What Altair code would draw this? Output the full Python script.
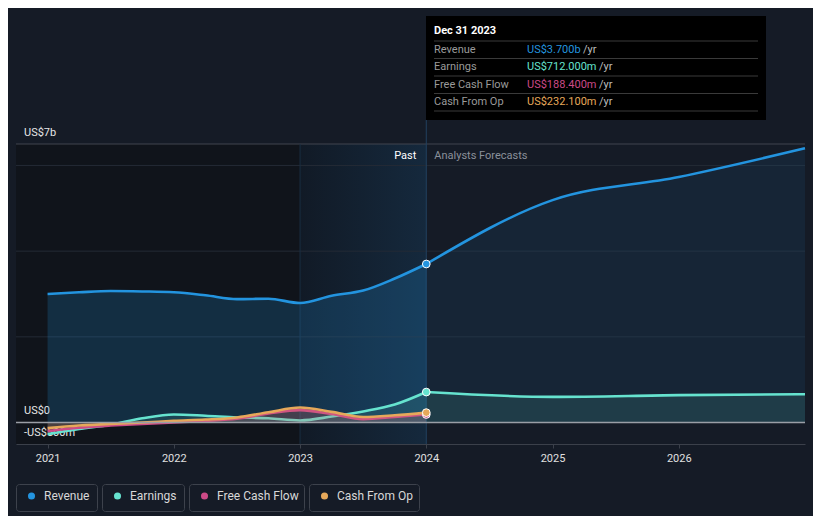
import altair as alt
import pandas as pd

# ---------------- data (US$ billions) ----------------
past_t = [2021.0, 2021.25, 2021.5, 2021.75, 2022.0, 2022.25, 2022.5, 2022.75,
          2023.0, 2023.25, 2023.5, 2023.75, 2024.0]
revenue_past = [3.00, 3.04, 3.07, 3.06, 3.04, 2.97, 2.88, 2.89, 2.79, 2.96, 3.08, 3.36, 3.70]
earnings_past = [-0.27, -0.15, -0.05, 0.10, 0.19, 0.16, 0.12, 0.10, 0.05, 0.14, 0.26, 0.42, 0.712]
fcf_past = [-0.20, -0.12, -0.07, -0.03, 0.00, 0.04, 0.09, 0.21, 0.29, 0.20, 0.08, 0.13, 0.1884]
cfo_past = [-0.13, -0.07, -0.03, 0.00, 0.04, 0.07, 0.12, 0.24, 0.35, 0.25, 0.13, 0.17, 0.2321]

fc_t = [2024.0, 2025.0, 2026.0, 2027.0]
revenue_fc = [3.70, 5.19, 5.73, 6.40]
earnings_fc = [0.712, 0.60, 0.64, 0.66]

series_names = ["Revenue", "Earnings", "Free Cash Flow", "Cash From Op"]
series_colors = ["#2394df", "#66e3cf", "#cc4a87", "#e6a85a"]

year_ticks = [2021, 2022, 2023, 2024, 2025, 2026]
y_label_vals = [6.5, 0.0, -0.5]
y_label_text = ["US$7b", "US$0", "-US$500m"]
grid_vals = [2.0, 4.0, 6.0]

tooltip_date = "Dec 31 2023"
tooltip_values = ["US$3.700b", "US$712.000m", "US$188.400m", "US$232.100m"]

# ---------------- layout ----------------
X_MIN, X_MAX = 2020.75, 2027.0
Y_MIN, Y_MAX = -0.5, 6.5
W, H = 789, 300
FONT = "Roboto"
BG = "#151b26"

xscale = alt.Scale(domain=[X_MIN, X_MAX], nice=False, zero=False)
yscale = alt.Scale(domain=[Y_MIN, Y_MAX], nice=False, zero=False)
xaxis = alt.Axis(values=year_ticks, format="d", title=None, grid=False,
                 domainColor="#3b404a", tickColor="#3b404a", tickSize=4,
                 labelColor="#e0e0e0", labelFontSize=11, labelFont=FONT,
                 labelPadding=4, labelFlush=False)


def XF(field):
    return alt.X(field, type="quantitative", scale=xscale, axis=xaxis)


def XD(v):
    return alt.X(datum=v, type="quantitative", scale=xscale, axis=xaxis)


def YF(field):
    return alt.Y(field, type="quantitative", scale=yscale, axis=None)


def YD(v):
    return alt.Y(datum=v, type="quantitative", scale=yscale, axis=None)


layers = []

# background regions
layers.append(alt.Chart().mark_rect(color="#10141b").encode(
    x=XD(X_MIN), x2=alt.X2(datum=2023.0), y=YD(Y_MAX), y2=alt.Y2(datum=Y_MIN)))
grad = alt.LinearGradient(gradient="linear",
                          stops=[alt.GradientStop(color="#111a26", offset=0),
                                 alt.GradientStop(color="#15293d", offset=1)],
                          x1=0, x2=1, y1=0, y2=0)
layers.append(alt.Chart().mark_rect(color=grad).encode(
    x=XD(2023.0), x2=alt.X2(datum=2024.0), y=YD(Y_MAX), y2=alt.Y2(datum=Y_MIN)))

# gridlines
grid_df = pd.DataFrame({"g": grid_vals})
layers.append(alt.Chart(grid_df).mark_rule(color="#242b36", strokeWidth=1).encode(
    x=XD(X_MIN), x2=alt.X2(datum=X_MAX), y=YF("g")))
layers.append(alt.Chart().mark_rule(color="#40454e", strokeWidth=1).encode(
    x=XD(X_MIN), x2=alt.X2(datum=X_MAX), y=YD(Y_MAX)))

# y labels
ylab_df = pd.DataFrame({"v": y_label_vals, "txt": y_label_text})
layers.append(alt.Chart(ylab_df).mark_text(align="left", baseline="middle", dy=-11.5,
                                           font=FONT, fontSize=11, color="#e6e6e6").encode(
    x=alt.value(8), y=YF("v"), text="txt:N"))

# vertical lines
layers.append(alt.Chart().mark_rule(color="#1a2d42", strokeWidth=1).encode(
    x=XD(2023.0), y=YD(Y_MAX), y2=alt.Y2(datum=Y_MIN)))
layers.append(alt.Chart().mark_rule(color="#22405f", strokeWidth=1).encode(
    x=XD(2024.0), y=alt.value(-24), y2=alt.value(H)))

# Past / Analysts Forecasts
layers.append(alt.Chart().mark_text(align="right", baseline="middle", dx=-10, dy=12,
                                    font=FONT, fontSize=11, color="#ffffff").encode(
    x=XD(2024.0), y=YD(Y_MAX), text=alt.value("Past")))
layers.append(alt.Chart().mark_text(align="left", baseline="middle", dx=8, dy=12,
                                    font=FONT, fontSize=11, color="#8a909a").encode(
    x=XD(2024.0), y=YD(Y_MAX), text=alt.value("Analysts Forecasts")))

# series: area + line for each, drawn in order
past_vals = [revenue_past, earnings_past, fcf_past, cfo_past]
fc_vals = {0: revenue_fc, 1: earnings_fc}
past_area_op = [0.2, 0.12, 0.15, 0.12]
fc_area_op = [0.09, 0.12]
for i, name in enumerate(series_names):
    col = series_colors[i]
    dfp = pd.DataFrame({"t": past_t, "v": past_vals[i]})
    layers.append(alt.Chart(dfp).mark_area(interpolate="monotone", color=col,
                                           opacity=past_area_op[i]).encode(
        x=XF("t"), y=YF("v"), y2=alt.Y2(datum=0)))
    if i in fc_vals:
        dff = pd.DataFrame({"t": fc_t, "v": fc_vals[i]})
        layers.append(alt.Chart(dff).mark_area(interpolate="monotone", color=col,
                                               opacity=fc_area_op[i]).encode(
            x=XF("t"), y=YF("v"), y2=alt.Y2(datum=0)))
    layers.append(alt.Chart(dfp).mark_line(interpolate="monotone", color=col,
                                           strokeWidth=2.6).encode(
        x=XF("t"), y=YF("v")))
    if i in fc_vals:
        layers.append(alt.Chart(dff).mark_line(interpolate="monotone", color=col,
                                               strokeWidth=2.6).encode(
            x=XF("t"), y=YF("v")))

# zero line
layers.append(alt.Chart().mark_rule(color="#9a9ea6", strokeWidth=1.5).encode(
    x=XD(X_MIN), x2=alt.X2(datum=X_MAX), y=YD(0.0)))

# end points at Dec 31 2023
pt_df = pd.DataFrame({"t": [2024.0] * 4,
                      "v": [revenue_past[-1], earnings_past[-1], fcf_past[-1], cfo_past[-1]],
                      "s": series_names})
layers.append(alt.Chart(pt_df).mark_point(filled=True, size=60, stroke="#ffffff",
                                          strokeWidth=1, opacity=1).encode(
    x=XF("t"), y=YF("v"),
    fill=alt.Fill("s:N", scale=alt.Scale(domain=series_names, range=series_colors), legend=None),
    order=alt.Order("o:Q")).transform_calculate(o="indexof(['Revenue','Earnings','Free Cash Flow','Cash From Op'], datum.s)"))

# tooltip box (pixel layout relative to plot origin)
OX, OY = 16, 144
layers.append(alt.Chart().mark_rect(color="#000000").encode(
    x=alt.value(426 - OX), x2=alt.value(766 - OX),
    y=alt.value(16 - OY), y2=alt.value(120 - OY)))
layers.append(alt.Chart().mark_text(align="left", baseline="middle", font=FONT,
                                    fontSize=11, fontWeight="bold", color="#ffffff").encode(
    x=alt.value(434 - OX), y=alt.value(31 - OY), text=alt.value(tooltip_date)))
for sep_y in [41, 58.5, 76, 93.5, 111]:
    layers.append(alt.Chart().mark_rule(color="#3a3a3a", strokeWidth=1).encode(
        x=alt.value(434 - OX), x2=alt.value(758 - OX), y=alt.value(sep_y - OY)))
row_y = [49.5, 67, 84.5, 102]
yr_x = [583, 599, 599, 599]
for i, name in enumerate(series_names):
    layers.append(alt.Chart().mark_text(align="left", baseline="middle", font=FONT,
                                        fontSize=11, color="#9a9a9a").encode(
        x=alt.value(434 - OX), y=alt.value(row_y[i] - OY), text=alt.value(name)))
    layers.append(alt.Chart().mark_text(align="left", baseline="middle", font=FONT,
                                        fontSize=11, color=series_colors[i]).encode(
        x=alt.value(527 - OX), y=alt.value(row_y[i] - OY), text=alt.value(tooltip_values[i])))
    layers.append(alt.Chart().mark_text(align="left", baseline="middle", font=FONT,
                                        fontSize=11, color="#bdbdbd").encode(
        x=alt.value(yr_x[i] - OX), y=alt.value(row_y[i] - OY), text=alt.value("/yr")))

# legend buttons
leg_x0 = [16, 102, 189, 309]
leg_x1 = [97, 184, 304, 419]
for i, name in enumerate(series_names):
    layers.append(alt.Chart().mark_rect(fill=BG, stroke="#3d424c", strokeWidth=1,
                                        cornerRadius=3).encode(
        x=alt.value(leg_x0[i] + 0.5 - OX), x2=alt.value(leg_x1[i] + 0.5 - OX),
        y=alt.value(484.5 - OY), y2=alt.value(511.5 - OY)))
    layers.append(alt.Chart().mark_circle(size=50, opacity=1, color=series_colors[i]).encode(
        x=alt.value(leg_x0[i] + 15.5 - OX), y=alt.value(496 - OY)))
    layers.append(alt.Chart().mark_text(align="left", baseline="middle", font=FONT,
                                        fontSize=12, color="#d8d8d8").encode(
        x=alt.value(leg_x0[i] + 28 - OX), y=alt.value(496 - OY), text=alt.value(name)))

chart = alt.layer(*layers).properties(
    width=W, height=H,
    background=BG,
    padding={"left": 8, "top": 136, "right": 8, "bottom": 72},
    autosize=alt.AutoSizeParams(type="none"),
).configure_view(stroke=None)

chart.save("out.html", embed_options={"renderer": "svg", "actions": False})
